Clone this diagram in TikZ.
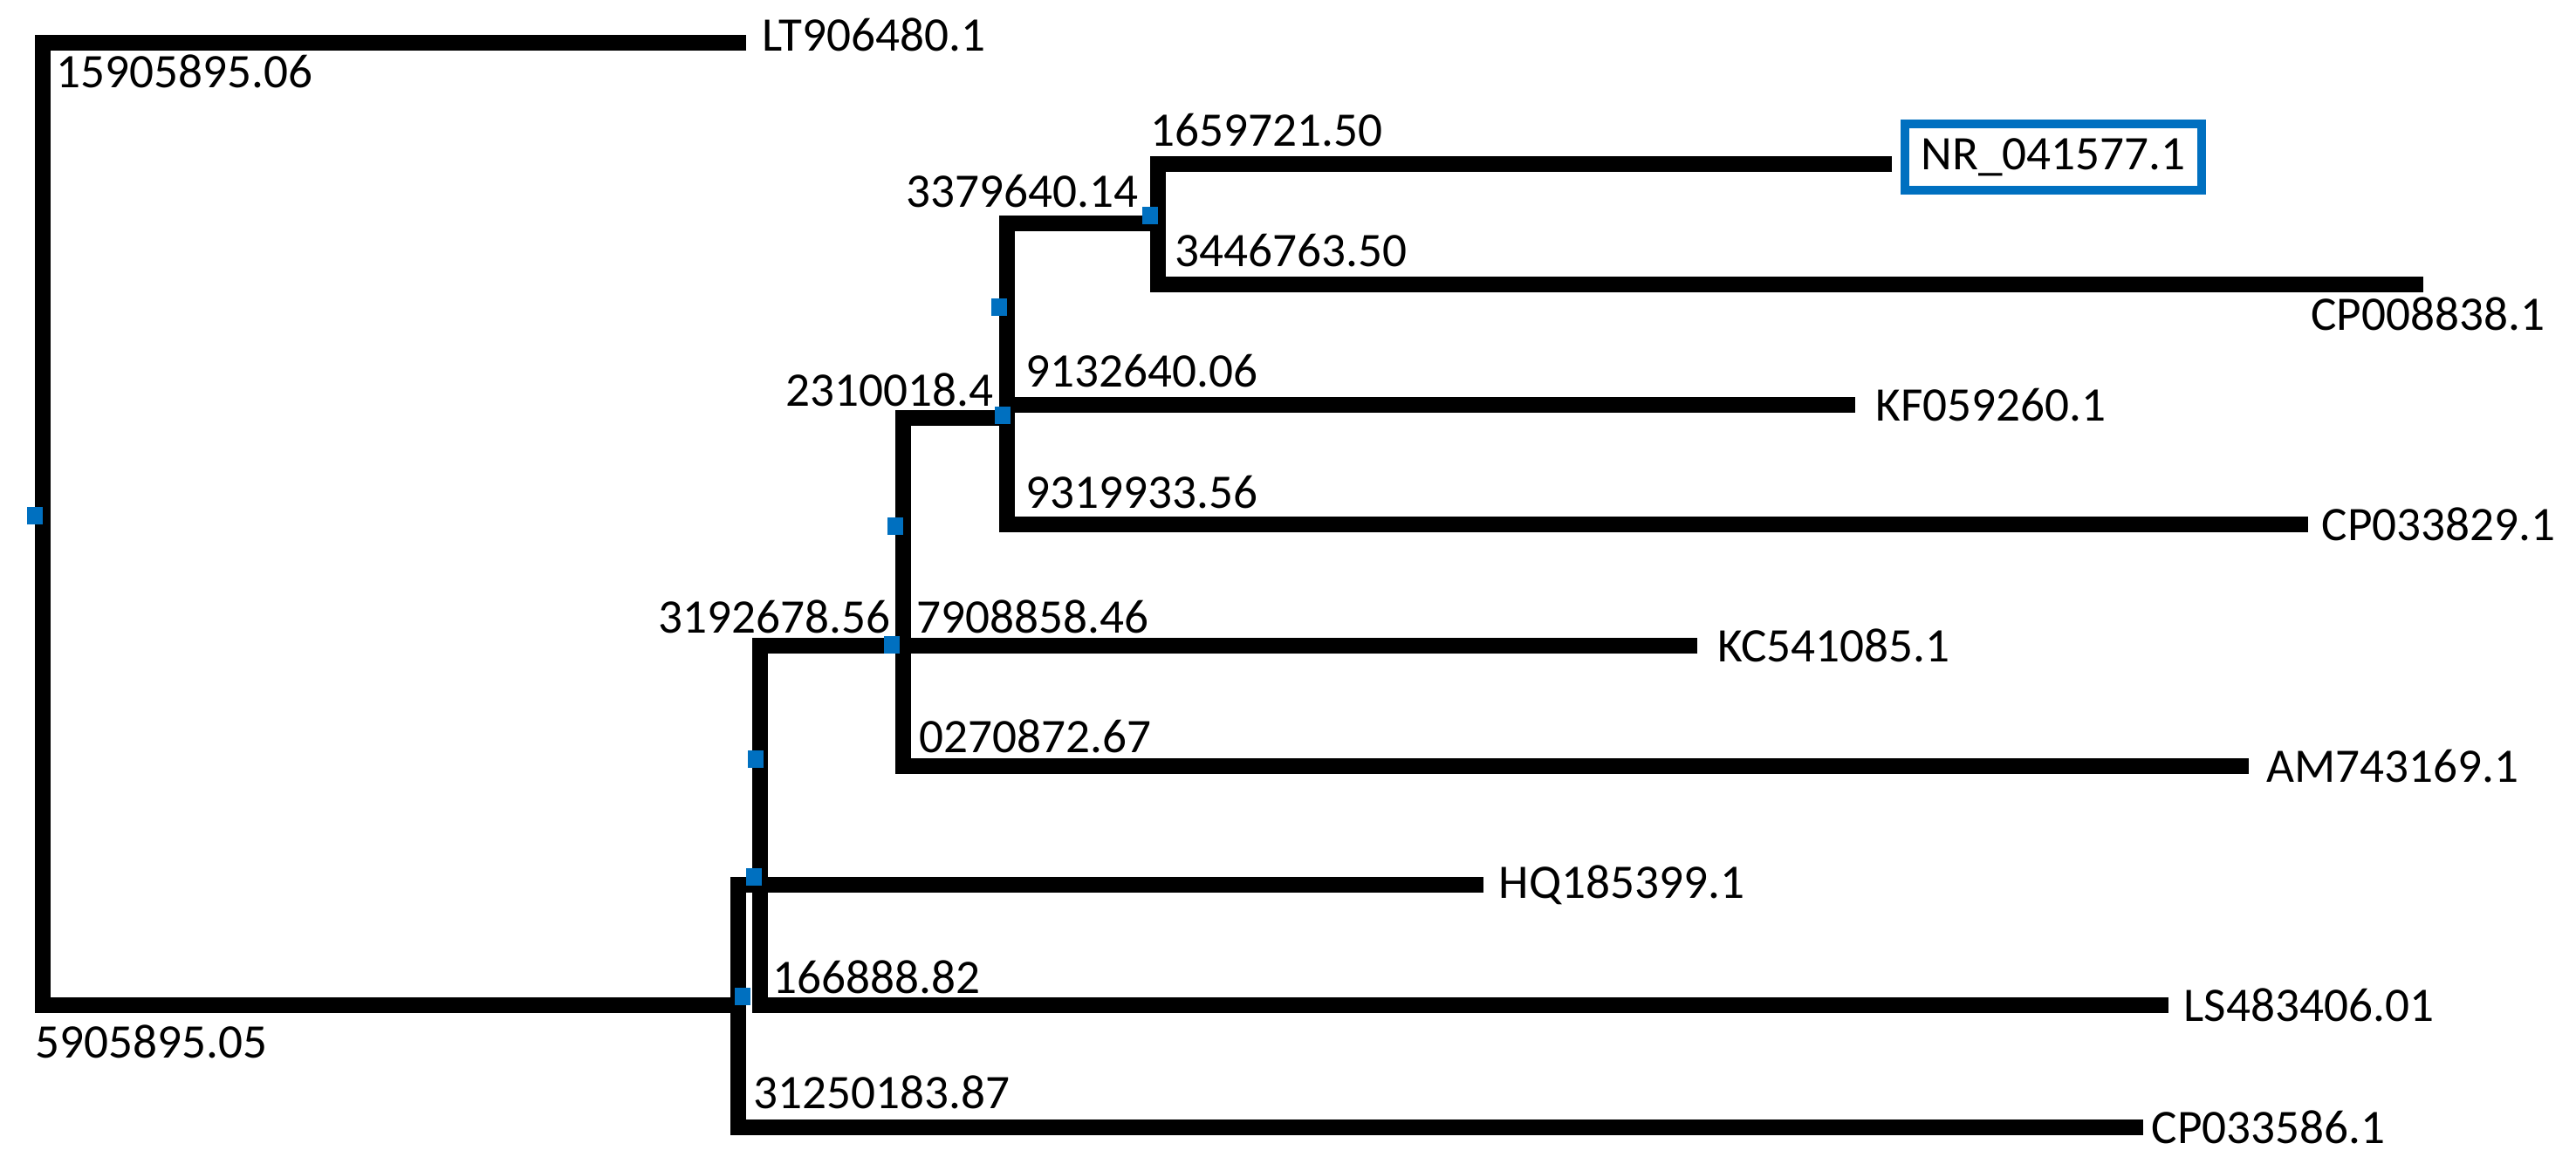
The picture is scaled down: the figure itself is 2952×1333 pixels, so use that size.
\documentclass[tikz,border=0pt]{standalone}
\usepackage{fontspec}
\setmainfont{Carlito}
\usepackage{tikz}
\usetikzlibrary{positioning}
\definecolor{nodeblue}{HTML}{0070C0}
\tikzset{branch/.style={line width=0.18cm,line join=miter,line cap=butt},
         leaf/.style={inner sep=0pt},
         num/.style={inner sep=0pt}
}
\tikzstyle{junction} = [fill=nodeblue,inner sep=0pt,minimum width=0.18cm,minimum height=0.2cm]

\begin{document}
\begin{tikzpicture}[x=0.01cm,y=-0.01cm,font=\fontsize{15.7}{18}\selectfont]
\useasboundingbox (0,0) rectangle (2952,1333);

% corners of the tree
\coordinate (rt) at (49,49);
\coordinate (rb) at (49,1152);
\coordinate (a0) at (846,1152);
\coordinate (a1) at (846,1014);
\coordinate (a2) at (846,1292);
\coordinate (b1) at (871,740);
\coordinate (b2) at (871,1152);
\coordinate (c1) at (1035,479);
\coordinate (c2) at (1035,878);
\coordinate (d0) at (1154,479);
\coordinate (d1) at (1154,256);
\coordinate (d2) at (1154,601);
\coordinate (dk) at (1154,464);
\coordinate (e0) at (1327,256);
\coordinate (e1) at (1327,188);
\coordinate (e2) at (1327,326);

% ends of the leaves
\coordinate (ltend) at (855,49);
\coordinate (nrend) at (2168,188);
\coordinate (cp8end) at (2777,326);
\coordinate (kfend) at (2126,464);
\coordinate (cp9end) at (2645,601);
\coordinate (kcend) at (1945,740);
\coordinate (amend) at (2577,878);
\coordinate (hqend) at (1700,1014);
\coordinate (lsend) at (2485,1152);
\coordinate (cp6end) at (2456,1292);

\draw[branch] (ltend) -- (rt) -- (rb) -- (a0);
\draw[branch] (hqend) -- (a1) -- (a2) -- (cp6end);
\draw[branch] (kcend) -- (b1) -- (b2) -- (lsend);
\draw[branch] (d0) -- (c1) -- (c2) -- (amend);
\draw[branch] (e0) -- (d1) -- (d2) -- (cp9end);
\draw[branch] (dk) -- (kfend);
\draw[branch] (nrend) -- (e1) -- (e2) -- (cp8end);

% leaf names
\node[leaf,right=0.18cm of ltend,yshift=0.09cm] (lt) {LT906480.1};
\node[leaf,draw=nodeblue,line width=0.1cm,minimum width=3.4cm,minimum height=0.75cm,
      right=0.1cm of nrend,yshift=0.08cm] (nr) {NR\_041577.1};
\node[num,anchor=base east] (cp8) at (2917,378) {CP008838.1};
\node[leaf,right=0.23cm of kfend] (kf) {KF059260.1};
\node[leaf,right=0.15cm of cp9end] (cp9) {CP033829.1};
\node[leaf,right=0.23cm of kcend] (kc) {KC541085.1};
\node[leaf,right=0.2cm of amend] (am) {AM743169.1};
\node[leaf,right=0.17cm of hqend] (hq) {HQ185399.1};
\node[leaf,right=0.17cm of lsend] (ls) {LS483406.01};
\node[leaf,right=0.09cm of cp6end] (cp6) {CP033586.1};

% values at the nodes
\node[num,anchor=base west] (v1) at (64,100) {15905895.06};
\node[num,anchor=base west] (v2) at (40,1212) {5905895.05};
\node[num,anchor=base east] (v3) at (1305,237) {3379640.14};
\node[num,anchor=base east] (v4) at (1139,465) {2310018.4};
\node[num,anchor=base east] (v5) at (1021,725) {3192678.56};

% values on the branches
\node[num,anchor=base west] (w1) at (1318,167) {1659721.50};
\node[num,anchor=base west] (w2) at (1346,305) {3446763.50};
\node[num,anchor=base west] (w3) at (1175,443) {9132640.06};
\node[num,anchor=base west] (w4) at (1175,582) {9319933.56};
\node[num,anchor=base west] (w5) at (1050,725) {7908858.46};
\node[num,anchor=base west] (w6) at (1053,862) {0270872.67};
\node[num,anchor=base west] (w7) at (885,1138) {166888.82};
\node[num,anchor=base west] (w8) at (863,1270) {31250183.87};

% blue marks
\node[junction] (q1) at (40,591) {};
\node[junction] (q2) at (1318,247) {};
\node[junction] (q3) at (1145,352) {};
\node[junction] (q4) at (1149,476) {};
\node[junction] (q5) at (1026,603) {};
\node[junction] (q6) at (1022,739) {};
\node[junction] (q7) at (866,870) {};
\node[junction] (q8) at (864,1005) {};
\node[junction] (q9) at (851,1142) {};

\end{tikzpicture}
\end{document}
